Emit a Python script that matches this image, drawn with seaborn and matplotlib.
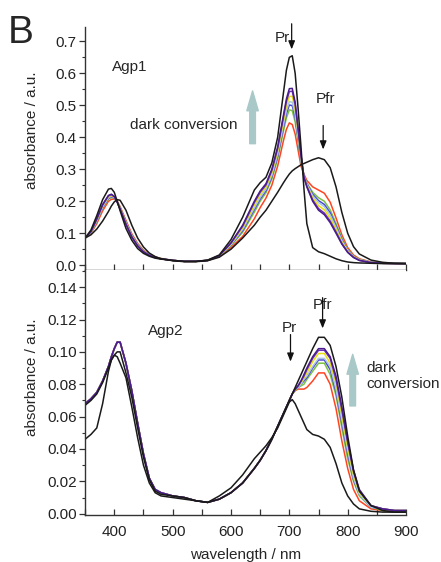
import matplotlib
matplotlib.use("Agg")
import matplotlib.pyplot as plt
from matplotlib.ticker import MultipleLocator, FormatStrFormatter
import seaborn as sns
import pandas as pd

# ---------------- data ----------------
wavelength = [350, 360, 370, 380, 390, 395, 400, 405, 410,
              420, 430, 440, 450, 460, 470, 480,
              500, 520, 540, 560, 580,
              600, 620, 640, 650, 660, 670, 680, 690,
              695, 700, 705, 710, 715, 720, 725, 730,
              740, 750, 760, 770, 780, 790, 800, 810, 820,
              840, 860, 880, 900]

# Agp1 (top panel)
agp1_pr = [.085, .11, .155, .205, .238, .24, .228, .2, .17,
           .115, .078, .052, .037, .028, .022, .019,
           .015, .012, .012, .016, .032,
           .08, .15, .235, .258, .275, .32, .4, .54,
           .61, .65, .655, .6, .49, .37, .24, .13,
           .055, .042, .036, .028, .02, .014, .01, .008, .007,
           .006, .005, .005, .005]
agp1_pfr = [.085, .095, .113, .138, .168, .185, .198, .205, .203,
            .172, .125, .085, .057, .038, .027, .02,
            .014, .011, .011, .014, .025,
            .05, .085, .125, .15, .172, .2, .228, .258,
            .272, .285, .295, .302, .308, .314, .318, .322,
            .33, .336, .33, .305, .245, .165, .1, .058, .035,
            .016, .009, .006, .005]
agp1_red = [.085, .1, .13, .17, .2, .206, .207, .2, .183,
            .14, .098, .068, .047, .034, .026, .021,
            .015, .012, .012, .015, .027,
            .055, .09, .145, .18, .21, .25, .31, .39,
            .425, .445, .44, .41, .36, .31, .285, .265,
            .245, .235, .225, .197, .148, .095, .055, .032, .02,
            .01, .007, .006, .005]
agp1_green = [.085, .102, .136, .178, .207, .212, .21, .199, .18,
              .135, .094, .065, .045, .033, .025, .021,
              .015, .012, .012, .015, .028,
              .061, .103, .166, .2, .227, .269, .333, .42,
              .461, .486, .483, .448, .387, .323, .281, .257,
              .228, .211, .2, .173, .13, .084, .049, .029, .018,
              .009, .007, .006, .005]
agp1_blue = [.085, .103, .138, .18, .209, .214, .211, .198, .179,
             .134, .093, .064, .044, .032, .025, .02,
             .015, .012, .012, .015, .029,
             .063, .108, .174, .207, .233, .276, .341, .432,
             .474, .501, .499, .462, .396, .328, .279, .255,
             .222, .202, .19, .164, .123, .08, .047, .028, .017,
             .009, .006, .006, .005]
agp1_lightblue = [.085, .103, .139, .182, .211, .216, .212, .198, .178,
                  .133, .092, .063, .044, .032, .025, .02,
                  .015, .012, .012, .015, .029,
                  .064, .112, .179, .212, .238, .281, .347, .44,
                  .484, .511, .51, .472, .403, .332, .278, .253,
                  .217, .196, .183, .157, .118, .077, .046, .027, .017,
                  .009, .006, .006, .005]
agp1_yellow = [.085, .104, .142, .186, .214, .218, .213, .198, .177,
               .131, .09, .062, .043, .031, .024, .02,
               .015, .012, .012, .015, .029,
               .067, .117, .188, .221, .245, .289, .357, .452,
               .499, .528, .528, .488, .415, .337, .277, .249,
               .21, .186, .173, .147, .111, .072, .043, .026, .016,
               .008, .006, .005, .005]
agp1_violet = [.085, .105, .144, .188, .217, .221, .214, .197, .176,
               .129, .089, .061, .042, .031, .024, .02,
               .015, .012, .012, .015, .03,
               .069, .122, .196, .228, .251, .296, .365, .464,
               .512, .543, .544, .502, .424, .342, .276, .247,
               .204, .177, .163, .138, .104, .068, .041, .025, .015,
               .008, .006, .005, .005]
agp1_purple = [.085, .105, .145, .19, .218, .222, .215, .197, .175,
               .128, .088, .06, .042, .031, .024, .02,
               .015, .012, .012, .015, .03,
               .07, .125, .2, .232, .255, .3, .37, .47,
               .52, .552, .553, .51, .43, .345, .275, .245,
               .2, .172, .158, .133, .1, .066, .04, .024, .015,
               .008, .006, .005, .005]

# Agp2 (bottom panel)
agp2_pr = [.046, .049, .053, .068, .088, .095, .098, .097, .093,
           .084, .066, .047, .03, .019, .013, .011,
           .01, .009, .008, .007, .011,
           .016, .024, .034, .038, .042, .047, .053, .061,
           .065, .069, .0705, .068, .064, .06, .056, .052,
           .049, .048, .046, .041, .031, .019, .011, .006, .003,
           .0015, .001, .001, .001]
agp2_pfr = [.067, .07, .074, .081, .09, .095, .098, .1, .1,
            .087, .072, .053, .035, .021, .014, .012,
            .011, .01, .008, .007, .009,
            .013, .019, .028, .033, .039, .046, .054, .062,
            .066, .07, .074, .078, .082, .086, .09, .094,
            .102, .109, .109, .104, .091, .072, .048, .027, .014,
            .005, .002, .001, .001]
agp2_red = [.068, .071, .075, .082, .091, .097, .102, .106, .106,
            .093, .076, .056, .037, .022, .015, .013,
            .011, .01, .008, .007, .009,
            .013, .019, .028, .033, .039, .046, .054, .062,
            .066, .07, .074, .076, .077, .077, .077, .078,
            .082, .087, .087, .08, .065, .045, .028, .015, .008,
            .003, .002, .001, .001]
agp2_green = [.068, .071, .075, .082, .091, .097, .102, .106, .106,
              .093, .076, .056, .037, .022, .015, .013,
              .011, .01, .008, .007, .009,
              .013, .019, .028, .033, .039, .046, .054, .062,
              .066, .07, .074, .076, .078, .079, .08, .083,
              .088, .093, .093, .086, .073, .053, .034, .02, .011,
              .004, .002, .001, .001]
agp2_blue = [.068, .071, .075, .082, .091, .097, .102, .106, .106,
             .093, .076, .056, .037, .022, .015, .013,
             .011, .01, .008, .007, .009,
             .013, .019, .028, .033, .039, .046, .054, .062,
             .066, .07, .074, .077, .078, .08, .082, .084,
             .09, .095, .095, .089, .075, .056, .037, .021, .012,
             .004, .003, .002, .001]
agp2_lightblue = [.068, .071, .075, .082, .091, .097, .102, .106, .106,
                  .093, .076, .056, .037, .022, .015, .013,
                  .011, .01, .008, .007, .009,
                  .013, .019, .028, .033, .039, .046, .054, .062,
                  .066, .07, .074, .077, .078, .08, .083, .085,
                  .091, .096, .096, .091, .077, .058, .039, .022, .012,
                  .004, .003, .002, .002]
agp2_yellow = [.068, .071, .075, .082, .091, .097, .102, .106, .106,
               .093, .076, .056, .037, .022, .015, .013,
               .011, .01, .008, .007, .009,
               .013, .019, .028, .033, .039, .046, .054, .062,
               .066, .07, .074, .077, .079, .081, .084, .087,
               .094, .099, .099, .093, .081, .061, .041, .024, .013,
               .005, .003, .002, .002]
agp2_violet = [.068, .071, .075, .082, .091, .097, .102, .106, .106,
               .093, .076, .056, .037, .022, .015, .013,
               .011, .01, .008, .007, .009,
               .013, .019, .028, .033, .039, .046, .054, .062,
               .066, .07, .074, .077, .079, .082, .085, .089,
               .096, .101, .101, .096, .083, .064, .044, .026, .014,
               .005, .003, .002, .002]
agp2_purple = [.068, .071, .075, .082, .091, .097, .102, .106, .106,
               .093, .076, .056, .037, .022, .015, .013,
               .011, .01, .008, .007, .009,
               .013, .019, .028, .033, .039, .046, .054, .062,
               .066, .07, .074, .077, .079, .082, .086, .09,
               .097, .102, .102, .097, .085, .066, .045, .027, .015,
               .005, .003, .002, .002]

series_names = ["red", "green", "blue", "lightblue", "yellow", "violet", "purple", "pfr", "pr"]
palette = {"red": "#ff4422", "green": "#7cc242", "blue": "#4a4ad0",
           "lightblue": "#a9c6e6", "yellow": "#e8e010", "violet": "#6b32b4",
           "purple": "#4a1c8e", "pfr": "#1a1a1a", "pr": "#1a1a1a"}

top_series = dict(zip(series_names, [agp1_red, agp1_green, agp1_blue, agp1_lightblue,
                                     agp1_yellow, agp1_violet, agp1_purple, agp1_pfr, agp1_pr]))
bot_series = dict(zip(series_names, [agp2_red, agp2_green, agp2_blue, agp2_lightblue,
                                     agp2_yellow, agp2_violet, agp2_purple, agp2_pfr, agp2_pr]))


def long_df(d):
    rows = []
    for name in series_names:
        for w, v in zip(wavelength, d[name]):
            rows.append({"wavelength": w, "absorbance": v, "series": name})
    return pd.DataFrame(rows)


# ---------------- style ----------------
sns.set_style("ticks")
plt.rcParams["font.family"] = ["Liberation Sans", "DejaVu Sans"]
plt.rcParams["font.size"] = 11
plt.rcParams["axes.linewidth"] = 1.0
plt.rcParams["axes.edgecolor"] = "#333333"
plt.rcParams["xtick.color"] = "#333333"
plt.rcParams["ytick.color"] = "#333333"
plt.rcParams["xtick.labelcolor"] = "#222222"
plt.rcParams["ytick.labelcolor"] = "#222222"

fig = plt.figure(figsize=(4.41, 5.62), dpi=100)
ax1 = fig.add_axes([0.193, 0.5196, 0.7277, 0.4324])
ax2 = fig.add_axes([0.193, 0.0836, 0.7277, 0.4360])

for ax, d in ((ax1, top_series), (ax2, bot_series)):
    sns.lineplot(data=long_df(d), x="wavelength", y="absorbance", hue="series",
                 hue_order=series_names, palette=palette, estimator=None, sort=False,
                 legend=False, linewidth=1.1, ax=ax)
    ax.set_xlim(350, 900)
    ax.spines["top"].set_visible(False)
    ax.spines["right"].set_visible(False)
    ax.xaxis.set_major_locator(MultipleLocator(100))
    ax.xaxis.set_minor_locator(MultipleLocator(50))
    ax.tick_params(axis="x", which="both", direction="in", length=4, width=0.9)
    ax.tick_params(axis="y", which="major", direction="out", length=4, width=0.9, pad=2)
    ax.tick_params(axis="y", which="minor", direction="out", length=2, width=0.8)
    ax.tick_params(labelsize=11)
    ax.set_ylabel("absorbance / a.u.", fontsize=11)

# top panel
ax1.set_ylim(-0.015, 0.745)
ax1.yaxis.set_major_locator(MultipleLocator(0.1))
ax1.yaxis.set_minor_locator(MultipleLocator(0.05))
ax1.yaxis.set_major_formatter(FormatStrFormatter("%.1f"))
ax1.tick_params(axis="x", labelbottom=False)
ax1.set_xlabel("")
ax1.yaxis.set_label_coords(-0.145, 0.576)

# bottom panel
ax2.set_ylim(-0.0008, 0.1506)
ax2.yaxis.set_major_locator(MultipleLocator(0.02))
ax2.yaxis.set_minor_locator(MultipleLocator(0.01))
ax2.yaxis.set_major_formatter(FormatStrFormatter("%.2f"))
ax2.xaxis.set_major_formatter(FormatStrFormatter("%d"))
ax2.tick_params(axis="x", pad=7)
ax2.set_xlabel("wavelength / nm", fontsize=11)
ax2.xaxis.set_label_coords(0.5, -0.135)
ax2.yaxis.set_label_coords(-0.145, 0.563)

# annotations top
black_arrow = dict(arrowstyle="-|>,head_width=0.18,head_length=0.45", color="#111111",
                   lw=0.9, shrinkA=0, shrinkB=0)
gray_arrow = dict(arrowstyle="simple,head_width=0.75,head_length=1.3,tail_width=0.37",
                  color="#a9c8c8", shrinkA=0, shrinkB=0)

ax1.text(396, 0.62, "Agp1", ha="left", va="center", fontsize=11)
ax1.text(427, 0.4375, "dark conversion", ha="left", va="center", fontsize=11)
ax1.annotate("", xy=(637, 0.545), xytext=(637, 0.38), arrowprops=gray_arrow)
ax1.text(701, 0.709, "Pr", ha="right", va="center", fontsize=11)
ax1.annotate("", xy=(704, 0.675), xytext=(704, 0.755), arrowprops=black_arrow,
             annotation_clip=False)
ax1.text(762, 0.52, "Pfr", ha="center", va="center", fontsize=11)
ax1.annotate("", xy=(758, 0.362), xytext=(758, 0.437), arrowprops=black_arrow)

# annotations bottom
ax2.text(458, 0.1127, "Agp2", ha="left", va="center", fontsize=11)
ax2.text(700.5, 0.1148, "Pr", ha="center", va="center", fontsize=11)
ax2.annotate("", xy=(702, 0.0940), xytext=(702, 0.1107), arrowprops=black_arrow)
ax2.text(757, 0.129, "Pfr", ha="center", va="center", fontsize=11)
ax2.annotate("", xy=(757, 0.1145), xytext=(757, 0.1335), arrowprops=black_arrow)
ax2.text(832, 0.0851, "dark\nconversion", ha="left", va="center", fontsize=11,
         linespacing=1.25, clip_on=False)
ax2.annotate("", xy=(808.6, 0.0985), xytext=(808.6, 0.0666), arrowprops=gray_arrow)

fig.text(8 / 441, 1 - 43 / 562, "B", fontsize=28, ha="left", va="baseline")

fig.savefig("out.png", dpi=100)
